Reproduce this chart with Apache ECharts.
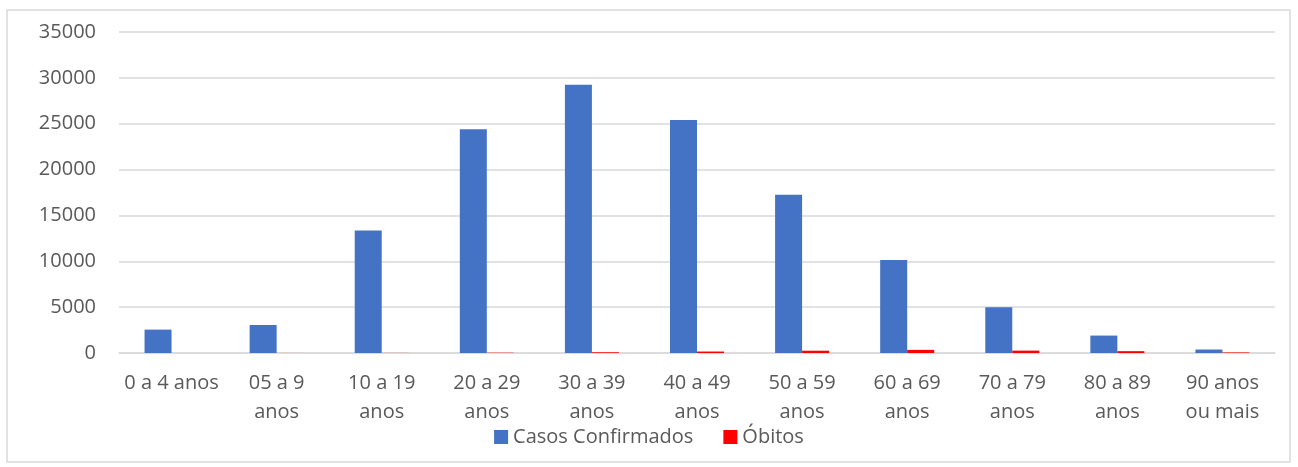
<!DOCTYPE html>
<html><head><meta charset="utf-8">
<script src="https://cdn.jsdelivr.net/npm/echarts@6/dist/echarts.min.js"></script>
<style>html,body{margin:0;padding:0;background:#fff}#c{width:1298px;height:467px}</style>
</head><body><div id="c"></div>
<script>
const categories = ['0 a 4 anos','05 a 9\nanos','10 a 19\nanos','20 a 29\nanos','30 a 39\nanos','40 a 49\nanos','50 a 59\nanos','60 a 69\nanos','70 a 79\nanos','80 a 89\nanos','90 anos\nou mais'];
const casosConfirmados = [2550, 3050, 13350, 24400, 29250, 25400, 17250, 10150, 5000, 1900, 380];
const obitos = [2, 4, 10, 30, 80, 160, 250, 340, 260, 200, 60];
const yTicks = [0, 5000, 10000, 15000, 20000, 25000, 30000, 35000];

const chart = echarts.init(document.getElementById('c'), null, {renderer:'canvas'});
chart.setOption({
  animation:false,
  graphic:[{type:'rect',shape:{x:7,y:10,width:1283,height:452},style:{fill:'none',stroke:'#d9d9d9',lineWidth:1.5}}],
  grid:{left:119,right:23,top:32,bottom:114,containLabel:false},
  legend:{top:422,left:'center',itemWidth:14,itemHeight:14,itemGap:30,icon:'rect',
    textStyle:{fontFamily:'Open Sans',fontSize:20,color:'#595959'},
    data:['Casos Confirmados','Óbitos']},
  xAxis:{type:'category',data:categories,
    axisLine:{lineStyle:{color:'#d9d9d9',width:1.5}},axisTick:{show:false},
    axisLabel:{interval:0,margin:16,fontFamily:'Open Sans',fontSize:20,color:'#595959',lineHeight:29}},
  yAxis:{type:'value',min:yTicks[0],max:yTicks[yTicks.length-1],interval:5000,
    axisLine:{show:false},axisTick:{show:false},
    splitLine:{lineStyle:{color:'#d9d9d9',width:1.5}},
    axisLabel:{margin:23,fontFamily:'Open Sans',fontSize:20,color:'#595959',formatter:v=>String(v)}},
  series:[
    {name:'Casos Confirmados',type:'bar',data:casosConfirmados,barWidth:27,barGap:'0%',itemStyle:{color:'#4472C4'}},
    {name:'Óbitos',type:'bar',data:obitos,barWidth:27,barGap:'0%',itemStyle:{color:'#FF0000'}}
  ]
});
</script></body></html>
